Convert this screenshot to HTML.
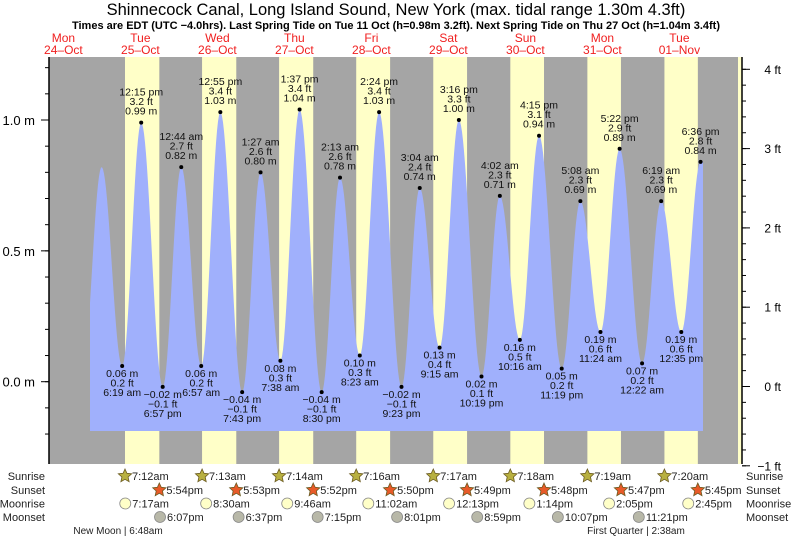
<!DOCTYPE html>
<html><head><meta charset="utf-8"><style>
html,body{margin:0;padding:0;background:#fff;}
svg{display:block;font-family:"Liberation Sans",sans-serif;}
</style></head><body>
<svg id="chart" width="793" height="539" viewBox="0 0 793 539" xmlns="http://www.w3.org/2000/svg">
<text x="396" y="15" text-anchor="middle" font-size="16.5" fill="#000">Shinnecock Canal, Long Island Sound, New York (max. tidal range 1.30m 4.3ft)</text>
<text x="396" y="29" text-anchor="middle" font-size="11" font-weight="bold" fill="#000">Times are EDT (UTC −4.0hrs). Last Spring Tide on Tue 11 Oct (h=0.98m 3.2ft). Next Spring Tide on Thu 27 Oct (h=1.04m 3.4ft)</text>
<g id="days"></g>
<g id="bg"></g>
<g id="tide"></g>
<g id="axes"></g>
<g id="astro"></g>
</svg>
<script>
const dayNames = ["Mon","Tue","Wed","Thu","Fri","Sat","Sun","Mon","Tue"];
const dayDates = ["24\u2013Oct","25\u2013Oct","26\u2013Oct","27\u2013Oct","28\u2013Oct","29\u2013Oct","30\u2013Oct","31\u2013Oct","01\u2013Nov"];
// tide extremes: day index (0 = 25 Oct), time, metres, feet, labelled?
const tideDay = [-1,-1,0,0,0,1,1,1,1,2,2,2,2,3,3,3,3,4,4,4,4,5,5,5,5,6,6,6,7,7,7,7];
const tideTime = ["5:50 pm","11:55 pm","6:19 am","12:15 pm","6:57 pm","12:44 am","6:57 am","12:55 pm","7:43 pm","1:27 am","7:38 am","1:37 pm","8:30 pm","2:13 am","8:23 am","2:24 pm","9:23 pm","3:04 am","9:15 am","3:16 pm","10:19 pm","4:02 am","10:16 am","4:15 pm","11:19 pm","5:08 am","11:24 am","5:22 pm","12:22 am","6:19 am","12:35 pm","6:36 pm"];
const tideM = [0.02,0.82,0.06,0.99,-0.02,0.82,0.06,1.03,-0.04,0.80,0.08,1.04,-0.04,0.78,0.10,1.03,-0.02,0.74,0.13,1.00,0.02,0.71,0.16,0.94,0.05,0.69,0.19,0.89,0.07,0.69,0.19,0.84];
const tideFt = ["0.1","2.7","0.2","3.2","\u22120.1","2.7","0.2","3.4","\u22120.1","2.6","0.3","3.4","\u22120.1","2.6","0.3","3.4","\u22120.1","2.4","0.4","3.3","0.1","2.3","0.5","3.1","0.2","2.3","0.6","2.9","0.2","2.3","0.6","2.8"];
const tideLabelled = [0,0,1,1,1,1,1,1,1,1,1,1,1,1,1,1,1,1,1,1,1,1,1,1,1,1,1,1,1,1,1,1];
const sunrise = ["7:12am","7:13am","7:14am","7:16am","7:17am","7:18am","7:19am","7:20am"];
const sunset = ["5:54pm","5:53pm","5:52pm","5:50pm","5:49pm","5:48pm","5:47pm","5:45pm"];
const moonrise = ["7:17am","8:30am","9:46am","11:02am","12:13pm","1:14pm","2:05pm","2:45pm"];
const moonset = ["6:07pm","6:37pm","7:15pm","8:01pm","8:59pm","10:07pm","11:21pm"];
const mTicks = [1.0,0.5,0.0];
const ftTicks = [4,3,2,1,0,-1];

const NS="http://www.w3.org/2000/svg";
const X0=101.9, DAYW=77, Y0=381.7, PXM=261.7;
const PL=49, PR=742, PT=57, PB=464;
const xd = d => X0 + DAYW*d;
const ym = m => Y0 - PXM*m;
const yft = f => 386.5 - 79.3*f;
function hrs(s){const m=s.match(/(\d+):(\d+)\s*([ap])m/);let h=+m[1]%12;if(m[3]==='p')h+=12;return h+ +m[2]/60;}
function mk(tag,attrs,parent,txt){const e=document.createElementNS(NS,tag);for(const k in attrs)e.setAttribute(k,attrs[k]);if(txt!==undefined)e.textContent=txt;parent.appendChild(e);return e;}
const G=id=>document.getElementById(id);

dayNames.forEach((n,i)=>{
  const x=xd(i-1+0.5);
  const t=mk('text',{x:x,y:42,'text-anchor':'middle','font-size':12,fill:'#f02020'},G('days'));
  
  
  mk('tspan',{x:x,dy:0},t,n);
  mk('tspan',{x:x,dy:12},t,dayDates[i]);
});
const bg=mk('rect',{x:PL,y:PT,width:PR-PL,height:PB-PT,fill:'#a5a5a5'},G('bg'));


sunrise.forEach((s,i)=>{
  const a=xd(i+hrs(s)/24), b=xd(i+hrs(sunset[i])/24);
  const r=mk('rect',{x:a,y:PT,width:b-a,height:PB-PT,fill:'#ffffc8'},G('bg'));
  
  
});
const rEnd=mk('rect',{x:738,y:PT,width:PR-738,height:PB-PT,fill:'#ffffc8'},G('bg'));



const tt=tideTime.map((s,i)=>tideDay[i]+hrs(s)/24);
const xStart=90, xEnd=703, yBot=431;
let pts=[];
for(let px=xStart;px<=xEnd;px+=1){
  const d=(px-X0)/DAYW;
  let k=0; while(k<tt.length-2 && tt[k+1]<d) k++;
  let h;
  if(d<=tt[0]) h=tideM[0];
  else if(d>=tt[tt.length-1]) h=tideM[tt.length-1];
  else {const f=(d-tt[k])/(tt[k+1]-tt[k]); h=tideM[k]+(tideM[k+1]-tideM[k])*(1-Math.cos(Math.PI*f))/2;}
  pts.push(px.toFixed(1)+','+ym(h).toFixed(1));
}
const area=mk('path',{d:'M'+xStart+','+yBot+' L'+pts.join(' L')+' L'+xEnd+','+yBot+' Z',fill:'#a0b0fc'},G('tide'));


tt.forEach((d,i)=>{
  if(!tideLabelled[i]) return;
  const x=xd(d), y=ym(tideM[i]);
  const high = (i>0 && tideM[i]>tideM[i-1]) || (i===0 && tideM[i]>tideM[1]);
  const c=mk('circle',{cx:x,cy:y,r:2,fill:'#000'},G('tide'));
  
  
  const mtxt=(tideM[i]<0?'\u2212'+Math.abs(tideM[i]).toFixed(2):tideM[i].toFixed(2))+' m';
  const lines = high ? [tideTime[i],tideFt[i]+' ft',mtxt] : [mtxt,tideFt[i]+' ft',tideTime[i]];
  const base = high ? y-27 : y+11;
  lines.forEach((s,j)=>{
    const t=mk('text',{x:x,y:base+j*9.5,'text-anchor':'middle','font-size':10.5,fill:'#111'},G('tide'),s);
    
    
  });
});

const A=G('axes');
mk('line',{x1:PL,y1:PT,x2:PL,y2:PB,stroke:'#000','stroke-width':1.5},A);
mk('line',{x1:PR,y1:PT,x2:PR,y2:PB,stroke:'#000','stroke-width':1.5},A);
for(let v=-0.2;v<=1.25;v+=0.1){const y=ym(v);mk('line',{x1:PL-4,y1:y,x2:PL,y2:y,stroke:'#000'},A);}
mTicks.forEach(v=>{const y=ym(v);mk('line',{x1:PL-8,y1:y,x2:PL,y2:y,stroke:'#000'},A);
  const t=mk('text',{x:35,y:y+5,'text-anchor':'end','font-size':13,fill:'#000'},A,v.toFixed(1)+' m');
  
  });
for(let f=-1;f<=4.01;f+=0.2){const y=yft(f);mk('line',{x1:PR,y1:y,x2:PR+4,y2:y,stroke:'#000'},A);}
ftTicks.forEach(f=>{const y=yft(f);mk('line',{x1:PR,y1:y,x2:PR+8,y2:y,stroke:'#000'},A);
  const t=mk('text',{x:781,y:y+4.5,'text-anchor':'end','font-size':12,fill:'#000'},A,(f<0?'\u2212'+(-f):f)+' ft');
  
  });

const S=G('astro');
const rows=[["Sunrise",476],["Sunset",490],["Moonrise",503.5],["Moonset",517]];
rows.forEach(r=>{
  const a=mk('text',{x:45,y:r[1]+4,'text-anchor':'end','font-size':11,fill:'#222'},S,r[0]);
  
  
  const b=mk('text',{x:746,y:r[1]+4,'font-size':11,fill:'#222'},S,r[0]);
  
  
});
function star(cx,cy,fill){let p=[];for(let k=0;k<10;k++){const a=-Math.PI/2+k*Math.PI/5,r=k%2?3.3:7;p.push((cx+r*Math.cos(a)).toFixed(1)+','+(cy+r*Math.sin(a)).toFixed(1));}
  const s=mk('polygon',{points:p.join(' '),fill:fill,stroke:'#6a5a20','stroke-width':0.8},S);return s;}
function event(arr,row,kind){
  arr.forEach((s,i)=>{
    const x=xd(i+hrs(s)/24), y=rows[row][1];
    let ic;
    if(kind==='sr') ic=star(x,y,'#b8b040');
    else if(kind==='ss') ic=star(x,y,'#e85a28');
    else ic=mk('circle',{cx:x,cy:y,r:5.5,fill:kind==='mr'?'#ffffc8':'#b8b8a8',stroke:'#888','stroke-width':0.8},S);
    
    
    const t=mk('text',{x:x+7,y:y+4,'font-size':11,fill:'#222'},S,s);
    
    
  });
}
event(sunrise,0,'sr');event(sunset,1,'ss');event(moonrise,2,'mr');event(moonset,3,'ms');
const p1=mk('text',{x:118,y:534,'text-anchor':'middle','font-size':10,fill:'#222'},S,'New Moon | 6:48am');


const p2=mk('text',{x:636,y:534,'text-anchor':'middle','font-size':10,fill:'#222'},S,'First Quarter | 2:38am');


</script>
</body></html>
